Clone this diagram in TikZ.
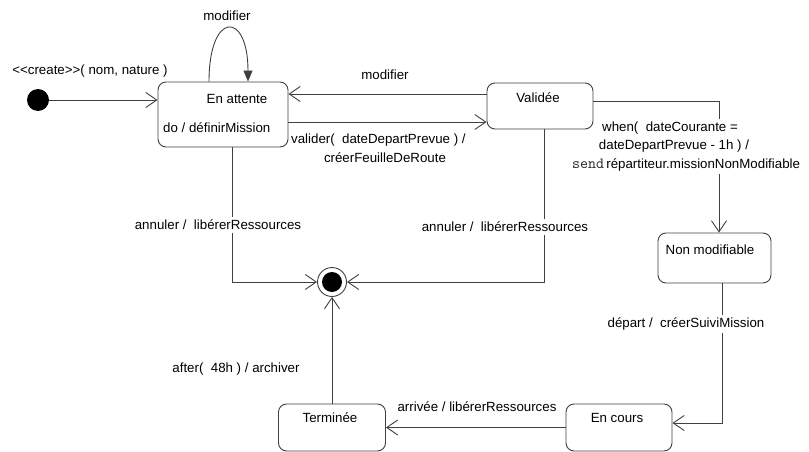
\documentclass[tikz,border=0pt]{standalone}
\usepackage{fontspec}
\setmainfont{Liberation Sans}
\usetikzlibrary{arrows.meta,calc}
\begin{document}
\begin{tikzpicture}[x=1pt,y=-1pt,
  every node/.style={font=\fontsize{13.3}{15}\selectfont, inner sep=0pt, text=black},
  statebox/.style={draw=black!75, line width=0.9pt, rounded corners=8pt, fill=white},
  arr/.style={draw=black!75, line width=0.9pt, -{Straight Barb[length=11pt,width=15pt,line width=0.9pt]}},
  looparr/.style={draw=black!75, line width=0.9pt, -{Triangle[length=11pt,width=9pt]}},
  tlabel/.style={fill=white, inner sep=3pt},
  txt/.style={inner sep=0pt}]
\useasboundingbox (0,0) rectangle (809,452);

% states
\node[circle, fill=black, minimum size=22pt] (init) at (38,100) {};
\node[statebox, minimum width=130pt, minimum height=65pt] (enatt) at (223,114.5) {};
\node[statebox, minimum width=106pt, minimum height=46pt] (valid) at (540,106) {};
\node[statebox, minimum width=113pt, minimum height=50pt] (nonmod) at (714.5,258) {};
\node[statebox, minimum width=106pt, minimum height=47pt] (encours) at (619,427.5) {};
\node[statebox, minimum width=107pt, minimum height=47pt] (termi) at (332,427.5) {};
\node[circle, draw=black!75, line width=0.9pt, minimum size=29pt] (final) at (332,282) {};
\fill[black] (final.center) circle (10pt);

% state texts
\node[txt] (tEnatt) at (237,99) {En attente};
\node[txt, anchor=west] (tDo) at (163,128) {do / définirMission};
\node[txt] (tValid) at (538,98) {Validée};
\node[txt] (tNonmod) at (710,250) {Non modifiable};
\node[txt] (tEncours) at (617,418) {En cours};
\node[txt] (tTermi) at (330,418) {Terminée};

% transitions
\draw[arr] (init) -- (init -| enatt.west);
\draw[looparr] ([xshift=-14pt]enatt.north) .. controls +(0,-71) and +(0,-71) .. ([xshift=25pt]enatt.north);

\coordinate (m1) at ([yshift=12pt]valid.west);
\draw[arr] (m1) -- (m1 -| enatt.east);

\coordinate (v1) at ([yshift=-7.5pt]enatt.east);
\draw[arr] (v1) -- (v1 -| valid.west);

\coordinate (w1) at ([yshift=5pt]valid.east);
\coordinate (w2) at ([xshift=4.5pt]nonmod.north);
\draw[arr] (w1) -| (w2);

\coordinate (d1) at ([xshift=8pt]nonmod.south);
\coordinate (d2) at ([yshift=4.5pt]encours.east);
\draw[arr] (d1) |- (d2);

\draw[arr] (encours.west) -- (termi.east);
\draw[arr] (termi.north) -- (final.south);

\coordinate (a1) at ([xshift=9pt]enatt.south);
\draw[arr] (a1) |- (final.west);
\coordinate (a2) at ([xshift=4pt]valid.south);
\draw[arr] (a2) |- (final.east);

% transition labels
\node[txt] (lLoop) at (227,16) {modifier};
\node[txt] (lCreate) at (90,71) {<{}<create>{}>( nom, nature )};
\node[txt] (lModif) at (385,75) {modifier};
\node[txt, anchor=west] (lValider1) at (291,140) {valider(\ \ dateDepartPrevue ) /};
\node[txt] (lValider2) at (385,158) {créerFeuilleDeRoute};
\node[tlabel] (lWhen1) at (670,128) {when(\ \ dateCourante =};
\node[tlabel] (lWhen2) at (674,146.5) {dateDepartPrevue - 1h ) /};
\node[tlabel, anchor=west] (lWhen3) at (569,165) {{\ttfamily\fontsize{15.5}{15}\selectfont\color{black!85}send}\,répartiteur.missionNonModifiable};
\node[tlabel] (lAnnul1) at (218,225) {annuler /\ \ libérerRessources};
\node[tlabel] (lAnnul2) at (505,227) {annuler /\ \ libérerRessources};
\node[tlabel] (lDepart) at (686,324) {départ /\ \ créerSuiviMission};
\node[txt] (lAfter) at (236,369) {after(\ \ 48h ) / archiver};
\node[txt] (lArrivee) at (477,407) {arrivée / libérerRessources};
\end{tikzpicture}
\end{document}
